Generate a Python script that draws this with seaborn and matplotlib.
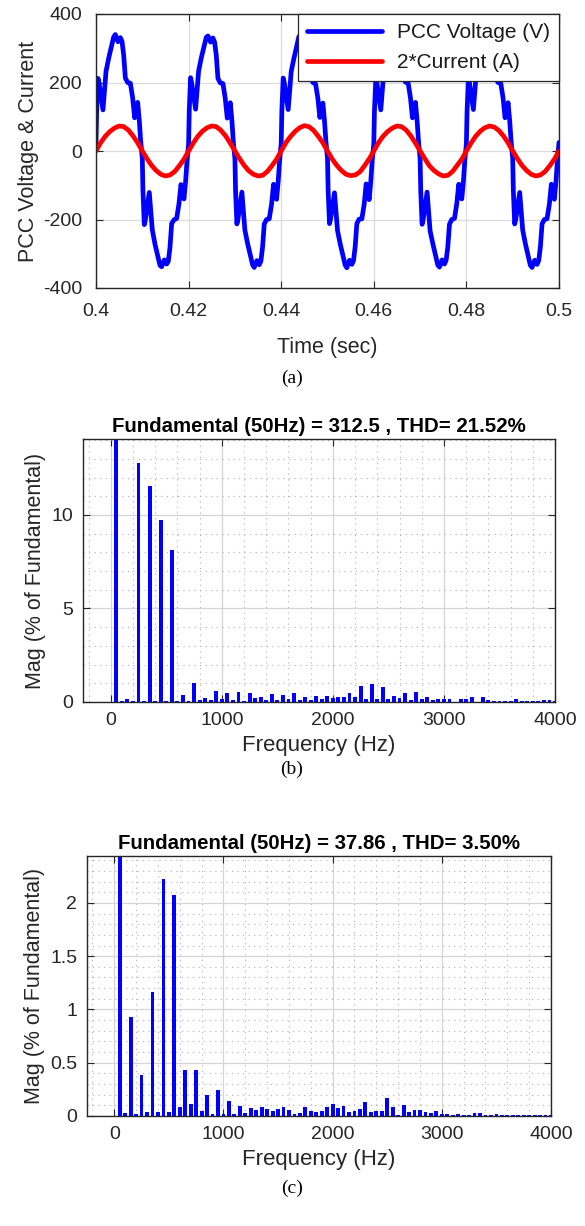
import numpy as np
import pandas as pd
import matplotlib
matplotlib.use("Agg")
import matplotlib.pyplot as plt
import seaborn as sns
from matplotlib.ticker import MultipleLocator, FixedLocator

# ---------------- data: panel (a) ----------------
volt_t = [
    0.40000, 0.40014, 0.40043, 0.40065, 0.40151, 0.40216, 0.40274, 0.40382, 0.40418, 0.40475, 0.40526,
    0.40562, 0.40598, 0.40634, 0.40684, 0.40742, 0.40792, 0.40835, 0.40900, 0.40936, 0.40965,
    0.41000, 0.41014, 0.41043, 0.41065, 0.41151, 0.41216, 0.41274, 0.41382, 0.41418, 0.41475, 0.41526,
    0.41562, 0.41598, 0.41634, 0.41684, 0.41742, 0.41792, 0.41835, 0.41900, 0.41936, 0.41965,
    0.42000, 0.42014, 0.42043, 0.42065, 0.42151, 0.42216, 0.42274, 0.42382, 0.42418, 0.42475, 0.42526,
    0.42562, 0.42598, 0.42634, 0.42684, 0.42742, 0.42792, 0.42835, 0.42900, 0.42936, 0.42965,
    0.43000, 0.43014, 0.43043, 0.43065, 0.43151, 0.43216, 0.43274, 0.43382, 0.43418, 0.43475, 0.43526,
    0.43562, 0.43598, 0.43634, 0.43684, 0.43742, 0.43792, 0.43835, 0.43900, 0.43936, 0.43965,
    0.44000, 0.44014, 0.44043, 0.44065, 0.44151, 0.44216, 0.44274, 0.44382, 0.44418, 0.44475, 0.44526,
    0.44562, 0.44598, 0.44634, 0.44684, 0.44742, 0.44792, 0.44835, 0.44900, 0.44936, 0.44965,
    0.45000, 0.45014, 0.45043, 0.45065, 0.45151, 0.45216, 0.45274, 0.45382, 0.45418, 0.45475, 0.45526,
    0.45562, 0.45598, 0.45634, 0.45684, 0.45742, 0.45792, 0.45835, 0.45900, 0.45936, 0.45965,
    0.46000, 0.46014, 0.46043, 0.46065, 0.46151, 0.46216, 0.46274, 0.46382, 0.46418, 0.46475, 0.46526,
    0.46562, 0.46598, 0.46634, 0.46684, 0.46742, 0.46792, 0.46835, 0.46900, 0.46936, 0.46965,
    0.47000, 0.47014, 0.47043, 0.47065, 0.47151, 0.47216, 0.47274, 0.47382, 0.47418, 0.47475, 0.47526,
    0.47562, 0.47598, 0.47634, 0.47684, 0.47742, 0.47792, 0.47835, 0.47900, 0.47936, 0.47965,
    0.48000, 0.48014, 0.48043, 0.48065, 0.48151, 0.48216, 0.48274, 0.48382, 0.48418, 0.48475, 0.48526,
    0.48562, 0.48598, 0.48634, 0.48684, 0.48742, 0.48792, 0.48835, 0.48900, 0.48936, 0.48965,
    0.49000, 0.49014, 0.49043, 0.49065, 0.49151, 0.49216, 0.49274, 0.49382, 0.49418, 0.49475, 0.49526,
    0.49562, 0.49598, 0.49634, 0.49684, 0.49742, 0.49792, 0.49835, 0.49900, 0.49936, 0.49965,
    0.50000,
]
volt_v = [
    22, 116, 212, 200, 120, 232, 271, 333, 340, 319, 331, 320, 280, 213, 200, 198, 155, 97, 142, 87, 29,
    -22, -116, -215, -202, -121, -230, -272, -334, -338, -318, -330, -322, -281, -212, -201, -197, -154, -98, -140, -88, -30,
    20, 118, 214, 199, 122, 233, 272, 332, 336, 318, 330, 318, 279, 212, 199, 197, 153, 96, 141, 88, 28,
    -21, -115, -213, -200, -120, -231, -270, -332, -340, -320, -332, -321, -280, -213, -200, -198, -155, -97, -141, -87, -29,
    22, 117, 213, 201, 121, 232, 270, 334, 339, 318, 331, 319, 281, 214, 200, 196, 154, 98, 140, 86, 29,
    -22, -116, -212, -199, -122, -232, -271, -333, -341, -319, -331, -320, -279, -212, -199, -198, -156, -96, -142, -87, -28,
    21, 116, 211, 200, 120, 231, 272, 333, 338, 320, 330, 321, 280, 213, 201, 198, 155, 97, 142, 87, 30,
    -23, -117, -214, -201, -120, -233, -270, -333, -339, -318, -330, -319, -281, -214, -200, -197, -154, -97, -140, -88, -29,
    22, 115, 212, 200, 121, 232, 271, 332, 339, 319, 331, 320, 280, 212, 200, 198, 155, 97, 141, 87, 29,
    -22, -116, -213, -200, -121, -231, -271, -334, -340, -319, -331, -320, -280, -213, -200, -198, -155, -97, -141, -87, -29,
    25,
]
curr_t = [round(0.400 + 0.001 * k, 3) for k in range(101)]
curr_v = [
    0, 24, 43, 57, 67, 73, 71, 61, 44, 24, 0, -22, -42, -57, -68, -73, -70, -60, -43, -24,
    0, 23, 43, 58, 68, 73, 71, 60, 44, 23, 0, -22, -42, -58, -68, -73, -71, -60, -43, -24,
    0, 24, 42, 57, 68, 74, 71, 60, 43, 24, 0, -23, -42, -57, -68, -72, -70, -61, -43, -23,
    0, 24, 43, 57, 67, 73, 71, 61, 44, 23, 0, -22, -43, -57, -67, -73, -71, -60, -42, -24,
    0, 23, 43, 58, 68, 73, 70, 60, 44, 24, 0, -22, -42, -57, -68, -73, -70, -60, -43, -24,
    0,
]

# ---------------- data: panels (b) and (c) ----------------
harm_freq = [50 * (i + 1) for i in range(80)]
mag_b = [
    100, 0.05, 0.18, 0.05, 12.78, 0.05, 11.57, 0.05, 9.75, 0.05,
    8.10, 0.05, 0.40, 0.03, 1.03, 0.10, 0.23, 0.10, 0.60, 0.15,
    0.48, 0.10, 0.52, 0.05, 0.48, 0.20, 0.25, 0.10, 0.45, 0.10,
    0.40, 0.18, 0.48, 0.10, 0.28, 0.10, 0.34, 0.16, 0.32, 0.20,
    0.25, 0.25, 0.50, 0.25, 0.83, 0.14, 0.94, 0.16, 0.78, 0.16,
    0.30, 0.20, 0.48, 0.10, 0.53, 0.16, 0.25, 0.09, 0.18, 0.14,
    0.18, 0.02, 0.16, 0.16, 0.27, 0.02, 0.25, 0.12, 0.07, 0.05,
    0.04, 0.07, 0.18, 0.05, 0.05, 0.05, 0.07, 0.09, 0.09, 0.05,
]
mag_c = [
    100, 0.025, 0.93, 0.02, 0.385, 0.035, 1.16, 0.04, 2.22, 0.04,
    2.07, 0.08, 0.43, 0.11, 0.43, 0.05, 0.20, 0.02, 0.24, 0.015,
    0.14, 0.02, 0.094, 0.03, 0.078, 0.06, 0.08, 0.07, 0.05, 0.07,
    0.085, 0.06, 0.02, 0.025, 0.085, 0.047, 0.034, 0.047, 0.08, 0.11,
    0.072, 0.097, 0.04, 0.047, 0.066, 0.134, 0.04, 0.047, 0.044, 0.166,
    0.084, 0.01, 0.10, 0.034, 0.053, 0.056, 0.034, 0.028, 0.044, 0.016,
    0.016, 0.013, 0.022, 0.013, 0.013, 0.025, 0.025, 0.01, 0.01, 0.022,
    0.013, 0.013, 0.01, 0.01, 0.01, 0.013, 0.01, 0.013, 0.01, 0.01,
]
title_b = "Fundamental (50Hz) = 312.5 , THD= 21.52%"
title_c = "Fundamental (50Hz) = 37.86 , THD= 3.50%"
time_ticks = [0.4, 0.42, 0.44, 0.46, 0.48, 0.5]
time_ticklabels = ["0.4", "0.42", "0.44", "0.46", "0.48", "0.5"]
volt_ticks = [-400, -200, 0, 200, 400]
freq_ticks = [0, 1000, 2000, 3000, 4000]

# ---------------- styling ----------------
sns.set_theme(style="white")
plt.rcParams["font.family"] = ["Liberation Sans", "DejaVu Sans"]
DARK = "#262626"
plt.rcParams.update({
    "axes.unicode_minus": False,
    "axes.edgecolor": DARK,
    "axes.linewidth": 1.0,
    "xtick.color": DARK,
    "ytick.color": DARK,
    "xtick.direction": "in",
    "ytick.direction": "in",
    "xtick.top": True,
    "ytick.right": True,
    "xtick.bottom": True,
    "ytick.left": True,
})

W, H = 585, 1226
fig = plt.figure(figsize=(W / 100, H / 100), dpi=100)


def rect(l, r, t, b):
    return [l / W, 1 - b / H, (r - l) / W, (b - t) / H]


TICK_FS = 14
LAB_FS = 15.5

# ---------------- panel (a) ----------------
axa = fig.add_axes(rect(96, 559, 14, 288))
dfv = pd.DataFrame({"t": volt_t, "v": volt_v})
dfc = pd.DataFrame({"t": curr_t, "v": curr_v})
sns.lineplot(data=dfv, x="t", y="v", ax=axa, color="#0000ff", lw=3.4,
             estimator=None, sort=False, label="PCC Voltage (V)")
sns.lineplot(data=dfc, x="t", y="v", ax=axa, color="#ff0000", lw=3.4,
             estimator=None, sort=False, label="2*Current (A)")
axa.set_xlim(0.4, 0.5)
axa.set_ylim(-400, 400)
axa.set_xticks(time_ticks)
axa.set_xticklabels(time_ticklabels)
axa.set_yticks(volt_ticks)
axa.grid(True, color="#dcdcdc", lw=0.9)
axa.set_axisbelow(True)
axa.tick_params(labelsize=TICK_FS, length=5, width=0.8)
axa.tick_params(axis="x", pad=11)
axa.tick_params(axis="y", pad=10)
axa.set_xlabel("Time (sec)", fontsize=LAB_FS, color=DARK, labelpad=12)
axa.set_ylabel("PCC Voltage & Current", fontsize=LAB_FS, color=DARK, labelpad=3)
leg = axa.legend(loc="upper right", fontsize=15, frameon=True, fancybox=False,
                 edgecolor=DARK, framealpha=1, borderaxespad=0.0,
                 handlelength=3.6, handletextpad=0.7, labelspacing=0.5,
                 borderpad=0.45)
leg.get_frame().set_linewidth(0.9)
for line in leg.get_lines():
    line.set_linewidth(3.4)
for txt in leg.get_texts():
    txt.set_color("#1a1a1a")


def spectrum(ax, mags, ylim_top, ymajor, yminor, ylabels, title):
    df = pd.DataFrame({"f": harm_freq, "m": mags})
    sns.barplot(data=df, x="f", y="m", ax=ax, native_scale=True, color="#0000ff",
                saturation=1, width=0.7, linewidth=0, errorbar=None)
    ax.set_xlim(-250, 4000)
    ax.set_ylim(0, ylim_top)
    ax.xaxis.set_major_locator(FixedLocator(freq_ticks))
    ax.set_xticklabels([str(v) for v in freq_ticks])
    ax.xaxis.set_minor_locator(MultipleLocator(200))
    ax.yaxis.set_major_locator(FixedLocator(ymajor))
    ax.set_yticklabels(ylabels)
    ax.yaxis.set_minor_locator(MultipleLocator(yminor))
    ax.grid(True, which="major", color="#d5d5d5", lw=0.9)
    ax.grid(True, which="minor", color="#b0b0b0", lw=0.8, ls=(0, (1, 4)))
    ax.set_axisbelow(True)
    ax.tick_params(which="major", labelsize=TICK_FS, length=5, width=0.8)
    ax.tick_params(axis="x", which="major", pad=7.5)
    ax.tick_params(axis="y", which="major", pad=7)
    ax.tick_params(which="minor", length=0)
    ax.set_xlabel("Frequency (Hz)", fontsize=16, color=DARK, labelpad=4)
    ax.set_ylabel("Mag (% of Fundamental)", fontsize=15.5, color=DARK, labelpad=4)
    ax.set_title(title, fontsize=14.7, fontweight="bold", color="black", pad=5)


axb = fig.add_axes(rect(83, 555, 439, 702))
spectrum(axb, mag_b, 14.06, [0, 5, 10], 1, ["0", "5", "10"], title_b)

axc = fig.add_axes(rect(87, 551, 856, 1116))
spectrum(axc, mag_c, 2.44, [0, 0.5, 1, 1.5, 2], 0.1,
         ["0", "0.5", "1", "1.5", "2"], title_c)

for lab, y in [("(a)", 378), ("(b)", 769), ("(c)", 1188)]:
    fig.text(292 / W, 1 - y / H, lab, ha="center", va="center", fontsize=14,
             family=["Liberation Serif", "DejaVu Serif"], color="black")

fig.savefig("out.png", dpi=100, facecolor="white")
